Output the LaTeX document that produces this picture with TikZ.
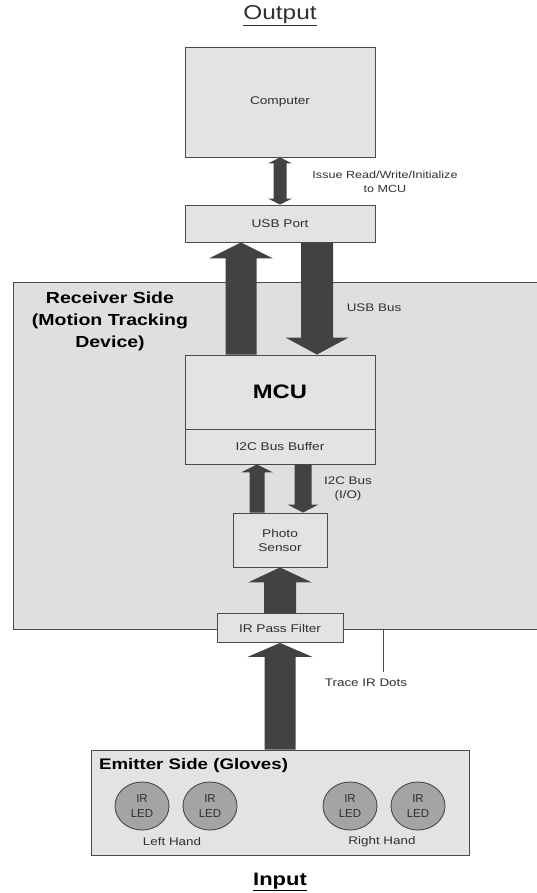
\documentclass[tikz,border=0pt]{standalone}
\usepackage{fontspec}
\setmainfont{Liberation Sans}[FakeStretch=1.22]
\newfontfamily\plainsans{Liberation Sans}
\usetikzlibrary{calc,shapes.geometric}
\definecolor{boxfill}{HTML}{E3E3E3}
\definecolor{regionfill}{HTML}{DFDFDF}
\definecolor{bordercol}{HTML}{4A4A4A}
\definecolor{arrowcol}{HTML}{424242}
\definecolor{ledfill}{HTML}{A4A4A4}
\definecolor{txtcol}{HTML}{303030}
% fat arrow from #1 to #2: shaft half width #3, head half width #4, head length #5
\newcommand\fatarrow[5]{%
  \fill[arrowcol]
    ($(#1)!#3!90:(#2)$) --
    ($($(#2)!#5!(#1)$)!#3!90:(#2)$) --
    ($($(#2)!#5!(#1)$)!#4!90:(#2)$) --
    (#2) --
    ($($(#2)!#5!(#1)$)!#4!-90:(#2)$) --
    ($($(#2)!#5!(#1)$)!#3!-90:(#2)$) --
    ($(#1)!#3!-90:(#2)$) -- cycle;}
% double-headed fat arrow between #1 and #2
\newcommand\fatdouble[5]{%
  \fill[arrowcol]
    (#1) --
    ($($(#1)!#5!(#2)$)!#4!90:(#2)$) --
    ($($(#1)!#5!(#2)$)!#3!90:(#2)$) --
    ($($(#2)!#5!(#1)$)!#3!90:(#2)$) --
    ($($(#2)!#5!(#1)$)!#4!90:(#2)$) --
    (#2) --
    ($($(#2)!#5!(#1)$)!#4!-90:(#2)$) --
    ($($(#2)!#5!(#1)$)!#3!-90:(#2)$) --
    ($($(#1)!#5!(#2)$)!#3!-90:(#2)$) --
    ($($(#1)!#5!(#2)$)!#4!-90:(#2)$) -- cycle;}
\begin{document}
\begin{tikzpicture}[x=1pt,y=-1pt,
  box/.style={draw=bordercol, line width=0.9pt, fill=boxfill, rectangle, inner sep=0pt,
    font=\fontsize{11.2}{14}\selectfont, align=center, text=txtcol},
  txt/.style={inner sep=0pt, font=\fontsize{11}{14}\selectfont, align=center, text=txtcol},
  led/.style={ellipse, draw=bordercol, line width=0.9pt, fill=ledfill, minimum width=54pt,
    minimum height=48pt, inner sep=0pt, font=\plainsans\fontsize{11.5}{15}\selectfont,
    align=center, text=txtcol}
]
\useasboundingbox[fill=white] (0,0) rectangle (536,893);

% receiver region
\node[draw=bordercol, line width=0.9pt, fill=regionfill, rectangle, inner sep=0pt,
      minimum width=527pt, minimum height=346.5pt] (region) at (276.5,455.75) {};

% titles
\node[txt, font=\fontsize{20}{22}\selectfont] (out) at (280,16) {\underline{Output}};
\node[txt, font=\fontsize{18}{22}\selectfont\bfseries, text=black] (in) at (280,882) {\underline{Input}};

% boxes
\node[box, minimum width=190pt, minimum height=110pt] (comp) at (280,102) {Computer};
\node[box, minimum width=190pt, minimum height=37pt] (usb) at (280,223.5) {USB Port};
\node[box, minimum width=190pt, minimum height=74.3pt,
      font=\fontsize{19.5}{22}\selectfont\bfseries, text=black] (mcu) at (280,392.15) {MCU};
\node[box, minimum width=190pt, minimum height=34.7pt] (i2c) at (280,446.65) {I2C Bus Buffer};
\node[box, minimum width=94pt, minimum height=54pt] (photo) at (280,540) {Photo\\Sensor};
\node[box, minimum width=126pt, minimum height=29pt] (filter) at (280,628) {IR Pass Filter};
\node[box, minimum width=378pt, minimum height=105.5pt] (emit) at (280,802.75) {};

% labels
\node[txt, font=\fontsize{16}{22}\selectfont\bfseries, text=black] (recv) at (110,321)
  {Receiver Side\\(Motion Tracking\\Device)};
\node[txt, font=\fontsize{15.3}{18}\selectfont\bfseries, text=black, anchor=west] (emittxt) at (99,766)
  {Emitter Side (Gloves)};
\node[txt, font=\fontsize{10.3}{14}\selectfont] (issue) at (385,182) {Issue Read/Write/Initialize\\to MCU};
\node[txt] (usbbus) at (374,308) {USB Bus};
\node[txt] (i2cbus) at (348,489) {I2C Bus\\(I/O)};
\node[txt] (trace) at (366,683) {Trace IR Dots};
\node[txt] (lefthand) at (172,842) {Left Hand};
\node[txt] (righthand) at (382,842) {Right Hand};

% LEDs
\node[led] (led1) at (142,806) {IR\\LED};
\node[led] (led2) at (210,806) {IR\\LED};
\node[led] (led3) at (350,806) {IR\\LED};
\node[led] (led4) at (418,806) {IR\\LED};

% leader line
\coordinate (leadtop) at (383,629);
\coordinate (leadbot) at (383,672);
\draw[draw=bordercol, line width=0.9pt] (leadtop) -- (leadbot);

% arrows
\fatdouble{comp.south}{usb.north}{6.5pt}{12pt}{6pt}
\fatarrow{[xshift=-39pt]mcu.north}{[xshift=-39pt]usb.south}{15.5pt}{32pt}{16pt}
\fatarrow{[xshift=37pt]usb.south}{[xshift=37pt]mcu.north}{16pt}{31.5pt}{17pt}
\fatarrow{[xshift=-23pt]photo.north}{[xshift=-23pt]i2c.south}{7.5pt}{16pt}{8pt}
\fatarrow{[xshift=23pt]i2c.south}{[xshift=23pt]photo.north}{8.5pt}{15.5pt}{8pt}
\fatarrow{filter.north}{photo.south}{16pt}{32pt}{15pt}
\fatarrow{emit.north}{filter.south}{15.5pt}{32.5pt}{14pt}
\end{tikzpicture}
\end{document}
